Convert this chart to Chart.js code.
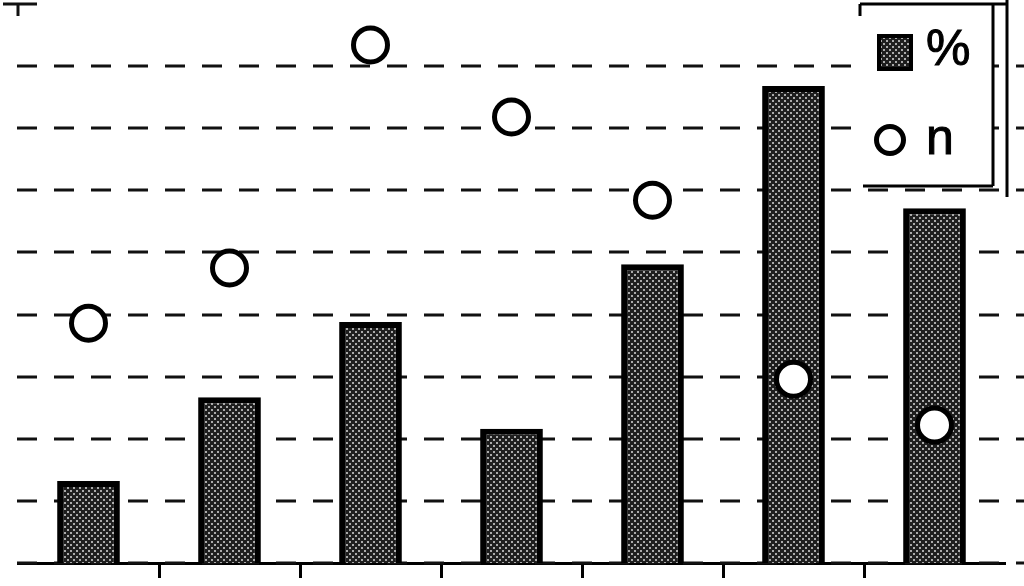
<!DOCTYPE html>
<html>
<head>
<meta charset="utf-8">
<script src="https://cdn.jsdelivr.net/npm/chart.js@4.4.1/dist/chart.umd.min.js"></script>
<style>
  html, body { margin: 0; padding: 0; background: #fff; }
  #wrap { width: 1024px; height: 586px; }
</style>
</head>
<body>
<div id="wrap"><canvas id="c" width="1024" height="586"></canvas></div>
<script>
// ---- data ----
const categories = ['1', '2', '3', '4', '5', '6', '7'];
const percentValues = [1.32, 2.67, 3.88, 2.16, 4.81, 7.68, 5.71];
const nValues = [3.86, 4.75, 8.34, 7.18, 5.84, 2.96, 2.22];
const gridValues = [0, 1, 2, 3, 4, 5, 6, 7, 8];
const seriesLabels = ['%', 'n'];

// ---- hatch pattern ----
function makePattern() {
  const p = document.createElement('canvas');
  p.width = 6; p.height = 6;
  const g = p.getContext('2d');
  g.fillStyle = '#1e1e1e';
  g.fillRect(0, 0, 6, 6);
  g.fillStyle = '#aaaaaa';
  g.fillRect(1, 1, 2, 2);
  g.fillRect(4, 4, 2, 2);
  return g.createPattern(p, 'repeat');
}
const ctx = document.getElementById('c').getContext('2d');
const hatch = makePattern();

const dashedGrid = {
  id: 'dashedGrid',
  beforeDatasetsDraw(chart) {
    const y = chart.scales.y;
    const c = chart.ctx;
    c.save();
    c.strokeStyle = '#111';
    c.lineWidth = 2.8;
    c.setLineDash([20, 17]);
    c.lineDashOffset = 20;
    gridValues.forEach(v => {
      const py = Math.round(y.getPixelForValue(v));
      c.beginPath();
      c.moveTo(0, py);
      c.lineTo(chart.width, py);
      c.stroke();
    });
    c.setLineDash([]);
    // top-left axis cap
    const top = chart.chartArea.top;
    const left = chart.chartArea.left;
    c.lineWidth = 3;
    c.beginPath();
    c.moveTo(3, top); c.lineTo(37, top);
    c.moveTo(left, top); c.lineTo(left, top + 12);
    c.stroke();
    c.restore();
  }
};

const customLegend = {
  id: 'customLegend',
  afterDraw(chart) {
    const c = chart.ctx;
    c.save();
    c.fillStyle = '#fff';
    c.fillRect(860, 4, 133, 182);
    c.strokeStyle = '#000';
    c.lineWidth = 3;
    c.beginPath();
    c.moveTo(860, 4); c.lineTo(1007, 4);
    c.moveTo(860, 4); c.lineTo(860, 16);
    c.moveTo(993, 4); c.lineTo(993, 186);
    c.moveTo(863, 186); c.lineTo(993, 186);
    c.moveTo(1007, 0); c.lineTo(1007, 197);
    c.stroke();
    // bar swatch
    c.fillStyle = hatch;
    c.fillRect(877, 34, 36, 37);
    c.lineWidth = 4;
    c.strokeRect(879, 36, 32, 33);
    // circle swatch
    c.fillStyle = '#fff';
    c.lineWidth = 5;
    c.beginPath();
    c.arc(890, 140, 13.5, 0, Math.PI * 2);
    c.fill();
    c.stroke();
    // text
    c.fillStyle = '#000';
    c.strokeStyle = '#000';
    c.lineWidth = 1;
    c.font = '50px "Liberation Sans", Arial, sans-serif';
    c.textBaseline = 'alphabetic';
    c.fillText(chart.data.datasets[0].label, 926, 65);
    c.strokeText(chart.data.datasets[0].label, 926, 65);
    c.fillText(chart.data.datasets[1].label, 926, 154);
    c.strokeText(chart.data.datasets[1].label, 926, 154);
    c.restore();
  }
};

new Chart(ctx, {
  data: {
    labels: categories,
    datasets: [
      {
        type: 'bar',
        label: seriesLabels[0],
        data: percentValues,
        backgroundColor: hatch,
        borderColor: '#000',
        borderWidth: 6,
        borderSkipped: 'start',
        barPercentage: 0.445,
        categoryPercentage: 1.0,
        order: 2
      },
      {
        type: 'line',
        label: seriesLabels[1],
        data: nValues,
        showLine: false,
        clip: false,
        pointRadius: 17,
        pointHoverRadius: 17,
        pointBorderWidth: 5,
        pointBackgroundColor: '#fff',
        pointBorderColor: '#000',
        order: 1
      }
    ]
  },
  options: {
    responsive: false,
    animation: false,
    devicePixelRatio: 1,
    layout: { autoPadding: false, padding: { left: 18, right: 19, top: 4, bottom: 0 } },
    plugins: {
      legend: { display: false },
      tooltip: { enabled: false }
    },
    scales: {
      x: {
        type: 'category',
        offset: true,
        grid: {
          offset: true,
          drawOnChartArea: false,
          drawTicks: true,
          tickLength: 15,
          tickWidth: 3,
          tickColor: (c) => (c.index > 0 && c.index < categories.length) ? '#000' : 'rgba(0,0,0,0)'
        },
        border: { display: true, color: '#000', width: 3 },
        ticks: { display: false },
        afterFit: (s) => { s.height = 23; }
      },
      y: {
        display: false,
        min: 0,
        max: 9
      }
    }
  },
  plugins: [dashedGrid, customLegend]
});
</script>
</body>
</html>
